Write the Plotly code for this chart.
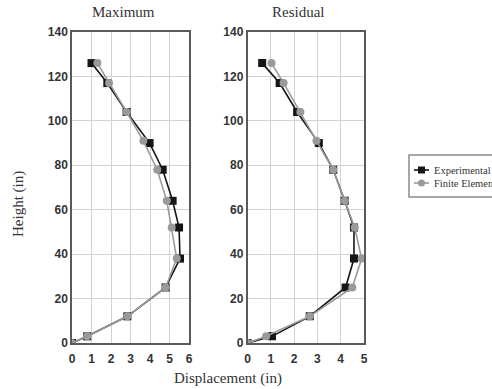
import plotly.graph_objects as go

# Storey heights (in)
height_exp = [0, 3, 12, 25, 38, 52, 64, 78, 90, 104, 117, 126]
height_fe = [0, 3, 12, 25, 38, 52, 64, 78, 91, 104, 117, 126]

# Maximum displacement (in)
max_exp = [0, 0.78, 2.84, 4.8, 5.54, 5.49, 5.16, 4.65, 3.98, 2.8, 1.81, 1.0]
max_fe = [0, 0.78, 2.84, 4.8, 5.37, 5.11, 4.86, 4.37, 3.66, 2.8, 1.9, 1.3]

# Residual displacement (in)
res_exp = [0, 1.05, 2.67, 4.21, 4.57, 4.57, 4.17, 3.68, 3.06, 2.13, 1.38, 0.63]
res_fe = [0, 0.8, 2.67, 4.5, 4.9, 4.6, 4.17, 3.68, 2.96, 2.27, 1.55, 1.03]

y_ticks = [0, 20, 40, 60, 80, 100, 120, 140]
series_names = ["Experimental", "Finite Element"]

BLACK = "#151515"
GRAY = "#9a9a9a"

fig = go.Figure()

panels = [("x", "y", max_exp, max_fe), ("x2", "y2", res_exp, res_fe)]
for xa, ya, exp_vals, fe_vals in panels:
    fig.add_trace(go.Scatter(
        x=exp_vals, y=height_exp, xaxis=xa, yaxis=ya, mode="lines+markers",
        name=series_names[0], showlegend=False,
        line=dict(color=BLACK, width=1.6),
        marker=dict(symbol="square", size=8, color=BLACK),
    ))
    fig.add_trace(go.Scatter(
        x=fe_vals, y=height_fe, xaxis=xa, yaxis=ya, mode="lines+markers",
        name=series_names[1], showlegend=False,
        line=dict(color=GRAY, width=1.6),
        marker=dict(symbol="circle", size=8, color=GRAY),
    ))

W, H = 492, 389


def px_x(p):
    return p / W


def px_y(p):
    return 1 - p / H


axis_common = dict(
    showgrid=True, gridcolor="#d2d2d2", gridwidth=1,
    showline=True, linecolor="#5a5a5a", linewidth=1.5, mirror=True,
    ticks="", zeroline=False,
    tickfont=dict(family="Liberation Sans", size=12, color="#333333", weight="bold"),
)

fig.update_layout(
    width=W, height=H,
    margin=dict(l=0, r=0, t=0, b=0, autoexpand=False),
    paper_bgcolor="white", plot_bgcolor="white",
    xaxis=dict(domain=[px_x(72), px_x(189)], range=[0, 6], dtick=1, anchor="y",
               ticklabelstandoff=4, **axis_common),
    yaxis=dict(domain=[px_y(343), px_y(32)], range=[0, 140], tickvals=y_ticks, anchor="x", **axis_common),
    xaxis2=dict(domain=[px_x(247.5), px_x(364)], range=[0, 5], dtick=1, anchor="y2",
                ticklabelstandoff=4, **axis_common),
    yaxis2=dict(domain=[px_y(343), px_y(32)], range=[0, 140], tickvals=y_ticks, anchor="x2", **axis_common),
    showlegend=False,
)

title_font = dict(family="Liberation Serif", size=15, color="#333333")
for label, cx, cy, angle in [("Maximum", 123, 12, 0), ("Residual", 298, 12, 0),
                             ("Displacement (in)", 228, 378, 0), ("Height (in)", 18, 204, -90)]:
    fig.add_annotation(text=label, x=px_x(cx), y=px_y(cy), xref="paper", yref="paper",
                       xanchor="center", yanchor="middle", textangle=angle,
                       showarrow=False, font=title_font)

# Legend box with short line-and-marker keys
fig.add_shape(type="rect", xref="paper", yref="paper",
              x0=px_x(409), x1=px_x(505), y0=px_y(197), y1=px_y(155),
              line=dict(color="#8a8a8a", width=1.5), fillcolor="white")
legend_rows = [(170, BLACK, "square"), (183, GRAY, "circle")]
for (row_y, colour, shape_kind), label in zip(legend_rows, series_names):
    fig.add_shape(type="line", xref="paper", yref="paper",
                  x0=px_x(414), x1=px_x(429), y0=px_y(row_y), y1=px_y(row_y),
                  line=dict(color=colour, width=1.6))
    fig.add_shape(type="rect" if shape_kind == "square" else "circle",
                  xref="paper", yref="paper",
                  x0=px_x(418), x1=px_x(425), y0=px_y(row_y + 3.5), y1=px_y(row_y - 3.5),
                  line=dict(color=colour, width=0), fillcolor=colour)
    fig.add_annotation(text=label, x=px_x(432), y=px_y(row_y), xref="paper", yref="paper",
                       xanchor="left", yanchor="middle", showarrow=False,
                       font=dict(family="Liberation Serif", size=10.5, color="#333333"))

fig.write_html("out.html")
